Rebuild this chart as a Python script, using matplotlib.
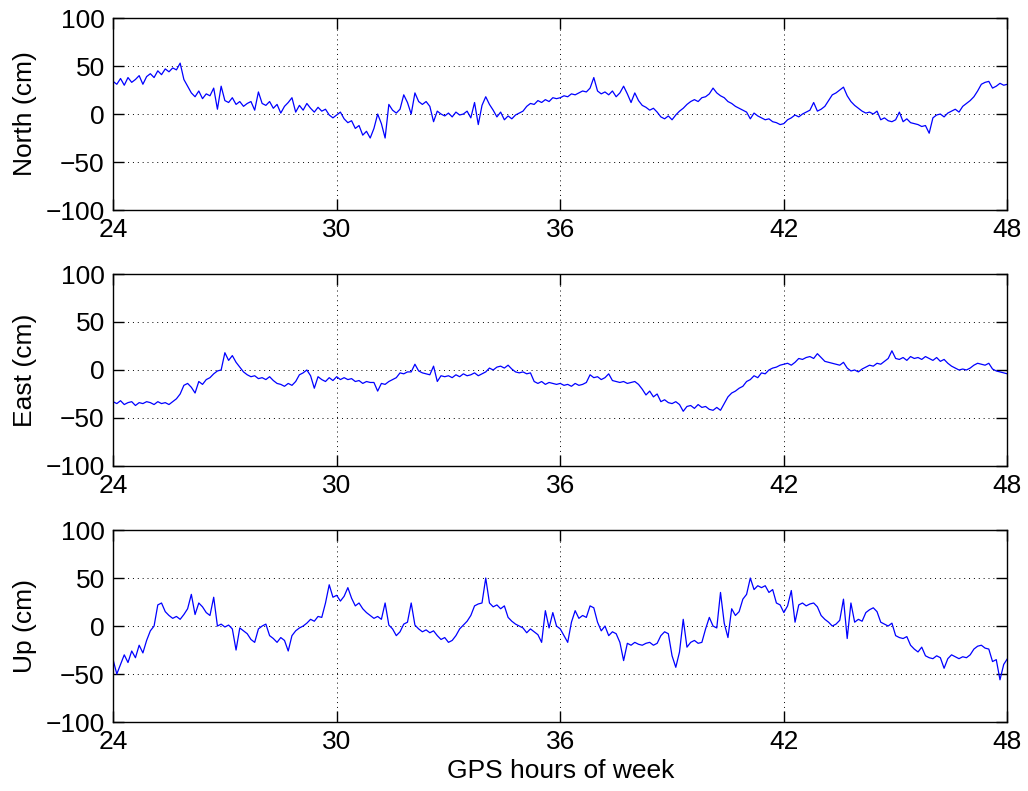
import numpy as np
import matplotlib
matplotlib.use("Agg")
import matplotlib.pyplot as plt

plt.rcParams['font.family'] = ['Liberation Sans', 'DejaVu Sans']

# time axis: GPS hours of week, one reading every 0.1 h
hours = np.round(np.arange(240 + 1) * 0.1 + 24.0, 1)

north = [
    34, 31, 37, 30, 38, 33, 36, 40, 31, 39,
    42, 38, 45, 41, 47, 44, 48, 46, 53, 36,
    29, 22, 18, 24, 16, 21, 19, 27, 5, 29,
    14, 12, 17, 10, 13, 8, 11, 13, 4, 23,
    11, 9, 13, 6, 10, 1, 8, 12, 17, 2,
    9, 4, 11, 6, 2, 7, 3, 5, -1, -4,
    -1, 2, -5, -9, -7, -15, -12, -22, -18, -25,
    -15, 0, -10, -25, 10, 4, 1, 5, 20, 12,
    0, 22, 13, 10, 13, 8, -8, 3, 0, -2,
    1, -3, 2, -1, 0, 3, -4, 12, -11, 9,
    18, 10, 4, -3, 2, -6, -2, -5, -1, 1,
    3, 8, 11, 10, 14, 12, 15, 13, 17, 16,
    17, 19, 18, 21, 20, 22, 24, 23, 27, 38,
    24, 21, 23, 20, 24, 18, 22, 29, 21, 12,
    22, 14, 9, 7, 4, 6, 2, -3, -5, -2,
    -6, -1, 3, 6, 10, 13, 15, 13, 17, 18,
    21, 27, 22, 19, 17, 13, 11, 8, 6, 4,
    2, -5, 1, -2, -4, -6, -5, -8, -9, -11,
    -10, -6, -4, -1, -3, 0, 2, 4, 12, 3,
    5, 8, 14, 20, 22, 25, 28, 19, 13, 9,
    6, 3, 1, 2, 0, 3, -6, -4, -7, -8,
    -6, 2, -8, -5, -9, -10, -11, -13, -12, -20,
    -4, -1, 0, -3, 1, 3, 5, 2, 8, 11,
    14, 18, 24, 31, 33, 34, 27, 29, 32, 30,
    31,
]

east = [
    -33, -35, -32, -36, -34, -33, -37, -34, -35, -33,
    -34, -36, -33, -35, -34, -36, -33, -30, -25, -16,
    -14, -18, -24, -12, -15, -10, -8, -4, -1, 0,
    18, 10, 15, 8, 3, -2, -5, -7, -6, -9,
    -8, -10, -7, -11, -14, -15, -17, -14, -16, -12,
    -5, -3, 0, -6, -19, -7, -10, -12, -8, -11,
    -7, -10, -8, -10, -9, -12, -11, -14, -12, -13,
    -13, -22, -14, -15, -12, -10, -8, -3, -4, -2,
    -2, 6, -1, -3, -4, -5, 4, -12, -6, -7,
    -6, -8, -5, -7, -4, -6, -5, -3, -6, -4,
    -2, 2, 0, 3, 4, 2, 5, 1, -2, -3,
    -2, -4, -3, -12, -14, -12, -15, -13, -14, -15,
    -14, -16, -15, -17, -14, -16, -15, -13, -5, -8,
    -7, -10, -8, -4, -11, -12, -13, -12, -14, -13,
    -12, -15, -20, -26, -22, -28, -25, -33, -31, -34,
    -35, -33, -36, -43, -38, -37, -40, -36, -39, -38,
    -41, -42, -39, -42, -35, -28, -24, -22, -19, -17,
    -12, -10, -6, -8, -3, -4, 0, 2, 3, 5,
    6, 7, 5, 8, 12, 11, 13, 14, 12, 17,
    13, 9, 8, 7, 6, 5, 8, 2, -1, 0,
    -2, 1, 3, 5, 4, 7, 6, 9, 12, 20,
    12, 11, 13, 10, 14, 12, 13, 11, 14, 12,
    10, 13, 9, 11, 7, 4, 2, 0, 1, 0,
    2, 5, 7, 6, 5, 7, 1, -1, -2, -3,
    -4,
]

up = [
    -35, -50, -40, -30, -38, -26, -33, -20, -28, -15,
    -5, 0, 22, 24, 15, 11, 8, 10, 7, 12,
    18, 33, 12, 24, 20, 14, 11, 30, 0, 2,
    -1, 1, -3, -25, -2, -5, -8, -14, -17, -3,
    0, 2, -10, -13, -17, -12, -15, -26, -10, -5,
    -2, 0, 3, 7, 5, 10, 9, 24, 43, 30,
    32, 26, 31, 40, 29, 21, 24, 18, 14, 11,
    8, 10, 7, 24, 1, -3, -10, -6, 2, 4,
    24, 1, -3, -6, -4, -7, -5, -10, -14, -12,
    -17, -15, -10, -3, 1, 5, 11, 21, 23, 24,
    50, 24, 20, 22, 18, 21, 9, 5, 2, 0,
    -2, -7, -3, -6, -9, -17, 16, -2, 14, 0,
    -3, -10, -17, 4, 16, 8, 11, 9, 21, 19,
    4, -5, 0, -10, -6, -8, -17, -36, -18, -20,
    -17, -19, -20, -18, -17, -20, -18, -10, -6, -8,
    -31, -43, -27, 7, -22, -17, -15, -18, -17, -3,
    9, 0, -2, 35, 3, -12, 18, 11, 15, 28,
    33, 50, 38, 42, 40, 42, 35, 38, 24, 22,
    14, 21, 37, 4, 22, 24, 21, 23, 24, 20,
    11, 7, 4, 0, 2, 6, 28, -13, 24, 4,
    7, 5, 14, 17, 19, 15, 4, 2, 0, 3,
    -10, -12, -13, -11, -20, -24, -27, -22, -31, -33,
    -34, -31, -33, -44, -34, -30, -32, -34, -32, -33,
    -30, -24, -21, -20, -23, -24, -37, -35, -56, -40,
    -34,
]

panels = [(north, 'North (cm)'), (east, 'East (cm)'), (up, 'Up (cm)')]
xticks = [24, 30, 36, 42, 48]
yticks = [-100, -50, 0, 50, 100]

fig = plt.figure(figsize=(10.28, 7.91), dpi=100)
bottoms = [0.7345, 0.4109, 0.0872]

for (vals, label), b in zip(panels, bottoms):
    ax = fig.add_axes([0.110, b, 0.870, 0.2427])
    ax.plot(hours, vals, color='#0000ff', lw=0.9)
    ax.set_xlim(24, 48)
    ax.set_ylim(-100, 100)
    ax.set_xticks(xticks)
    ax.set_yticks(yticks)
    ax.grid(True, color='black', linestyle=(0, (1, 4)), linewidth=0.7)
    ax.tick_params(direction='in', top=True, right=True, labelsize=19,
                   length=8, width=1, pad=6)
    ax.set_ylabel(label, fontsize=19, labelpad=6)
    for s in ax.spines.values():
        s.set_linewidth(1)

ax.set_xlabel('GPS hours of week', fontsize=19, labelpad=3)

fig.savefig('out.png', dpi=100)
